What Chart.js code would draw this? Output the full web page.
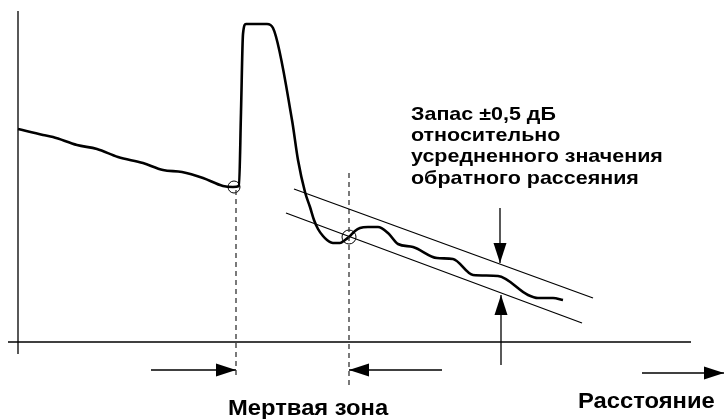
<!DOCTYPE html>
<html>
<head>
<meta charset="utf-8">
<script src="https://cdn.jsdelivr.net/npm/chart.js@4"></script>
<style>
  html, body { margin: 0; padding: 0; background: #fff; }
  #otdr { display: block; }
</style>
</head>
<body>
<canvas id="otdr" width="724" height="419"></canvas>
<script>
// OTDR trace: dead zone and ±0.5 dB backscatter band
// distance units along x, level (dB) along y

const traceDist  = [0, 2.5, 3.5, 5.9, 7.9, 10.0, 12.5, 14.5, 16.4, 18.5, 20.5, 21.5, 22.1, 22.3, 22.5, 22.8, 24.9, 25.5, 27.4, 28.0, 28.7, 29.2, 29.6, 30.0, 30.5, 30.9, 31.5, 32.2, 32.7, 33.1, 33.7, 34.2, 35.0, 36.0, 37.0, 38.0, 39.5, 41.9, 43.5, 45.5, 48.0, 51.0, 52.0, 53.5, 54.5];
const traceLevel = [21.3, 20.7, 20.5, 19.7, 19.3, 18.5, 17.9, 17.2, 17.0, 16.4, 15.6, 15.5, 15.6, 23.0, 30.8, 31.8, 31.8, 31.4, 22.2, 18.2, 15.0, 13.5, 12.2, 11.3, 10.6, 10.2, 9.9, 9.9, 10.2, 10.5, 11.1, 11.4, 11.5, 11.5, 10.9, 9.8, 9.5, 8.4, 8.3, 6.7, 6.6, 4.7, 4.4, 4.4, 4.2];

// ±0.5 dB band around averaged backscatter
const bandDist  = [27.6, 57.5];
const bandUpper = [15.3, 4.4];
const bandLowerDist = [26.8, 56.4];
const bandLower = [12.9, 1.9];

// dead zone boundaries
const deadZoneStart = 21.8;
const deadZoneEnd = 33.1;
const eventDist  = [21.6, 33.1];
const eventLevel = [15.5, 10.5];

const labelBand = ['Запас ±0,5 дБ', 'относительно', 'усредненного значения', 'обратного рассеяния'];
const labelDeadZone = 'Мертвая зона';
const labelDistance = 'Расстояние';

const pts = (xs, ys) => xs.map((x, i) => ({ x: x, y: ys[i] }));

const thinLine = (data, extra) => Object.assign({
  data: data,
  borderColor: '#000',
  borderWidth: 1.3,
  pointRadius: 0,
  tension: 0,
  fill: false
}, extra || {});

// draws filled arrow heads at the last point of datasets flagged with arrow:true
const arrowHeads = {
  id: 'arrowHeads',
  afterDatasetsDraw(chart) {
    const ctx = chart.ctx;
    chart.data.datasets.forEach((ds, i) => {
      if (!ds.arrow) return;
      const pts = chart.getDatasetMeta(i).data;
      const tip = pts[pts.length - 1];
      const from = pts[pts.length - 2];
      const ang = Math.atan2(tip.y - from.y, tip.x - from.x);
      const len = 20, half = 6.5;
      ctx.save();
      ctx.translate(tip.x, tip.y);
      ctx.rotate(ang);
      ctx.beginPath();
      ctx.moveTo(0, 0);
      ctx.lineTo(-len, -half);
      ctx.lineTo(-len, half);
      ctx.closePath();
      ctx.fillStyle = '#000';
      ctx.fill();
      ctx.restore();
    });
  }
};

// annotation text, slightly widened like the original artwork
const annotations = {
  id: 'annotations',
  afterDraw(chart) {
    const ctx = chart.ctx;
    const draw = (text, x, y, size, sx) => {
      ctx.save();
      ctx.translate(x, y);
      ctx.scale(sx, 1);
      ctx.font = 'bold ' + size + 'px "Liberation Sans", Arial, sans-serif';
      ctx.fillStyle = '#000';
      ctx.textBaseline = 'alphabetic';
      ctx.fillText(text, 0, 0);
      ctx.restore();
    };
    labelBand.forEach((t, i) => draw(t, 411, 120 + i * 21.2, 19, 1.13));
    draw(labelDeadZone, 228, 415, 22, 1.08);
    draw(labelDistance, 578, 408, 22, 1.08);
  }
};

new Chart(document.getElementById('otdr'), {
  type: 'line',
  data: {
    datasets: [
      // axes
      thinLine(pts([-1.0, 67.3], [0, 0])),
      thinLine(pts([0, 0], [33.1, -1.2])),
      // backscatter band
      thinLine(pts(bandDist, bandUpper)),
      thinLine(pts(bandLowerDist, bandLower)),
      // dead zone markers
      thinLine(pts([deadZoneStart, deadZoneStart], [15.2, -3.3]), { borderDash: [5, 4], borderColor: '#333' }),
      thinLine(pts([deadZoneEnd, deadZoneEnd], [16.9, -4.3]), { borderDash: [5, 4], borderColor: '#333' }),
      // trace
      {
        data: pts(traceDist, traceLevel),
        borderColor: '#000',
        borderWidth: 2.6,
        pointRadius: 0,
        cubicInterpolationMode: 'monotone',
        fill: false
      },
      // event markers
      {
        data: pts(eventDist, eventLevel),
        showLine: false,
        pointRadius: [6, 7],
        pointStyle: 'circle',
        pointBackgroundColor: 'rgba(0,0,0,0)',
        pointBorderColor: '#000',
        pointBorderWidth: 1
      },
      // arrows
      thinLine(pts([13.3, deadZoneStart], [-2.8, -2.8]), { arrow: true }),
      thinLine(pts([42.4, deadZoneEnd], [-2.8, -2.8]), { arrow: true }),
      thinLine(pts([62.4, 70.6], [-3.1, -3.1]), { arrow: true }),
      thinLine(pts([48.2, 48.2], [13.4, 7.9]), { arrow: true }),
      thinLine(pts([48.3, 48.3], [-2.3, 4.7]), { arrow: true })
    ]
  },
  options: {
    responsive: false,
    animation: false,
    devicePixelRatio: 1,
    layout: { padding: 0, autoPadding: false },
    plugins: {
      legend: { display: false },
      tooltip: { enabled: false }
    },
    scales: {
      x: { type: 'linear', min: -1.8, max: 70.6, display: false },
      y: { type: 'linear', min: -7.7, max: 34.2, display: false }
    }
  },
  plugins: [arrowHeads, annotations]
});
</script>
</body>
</html>
